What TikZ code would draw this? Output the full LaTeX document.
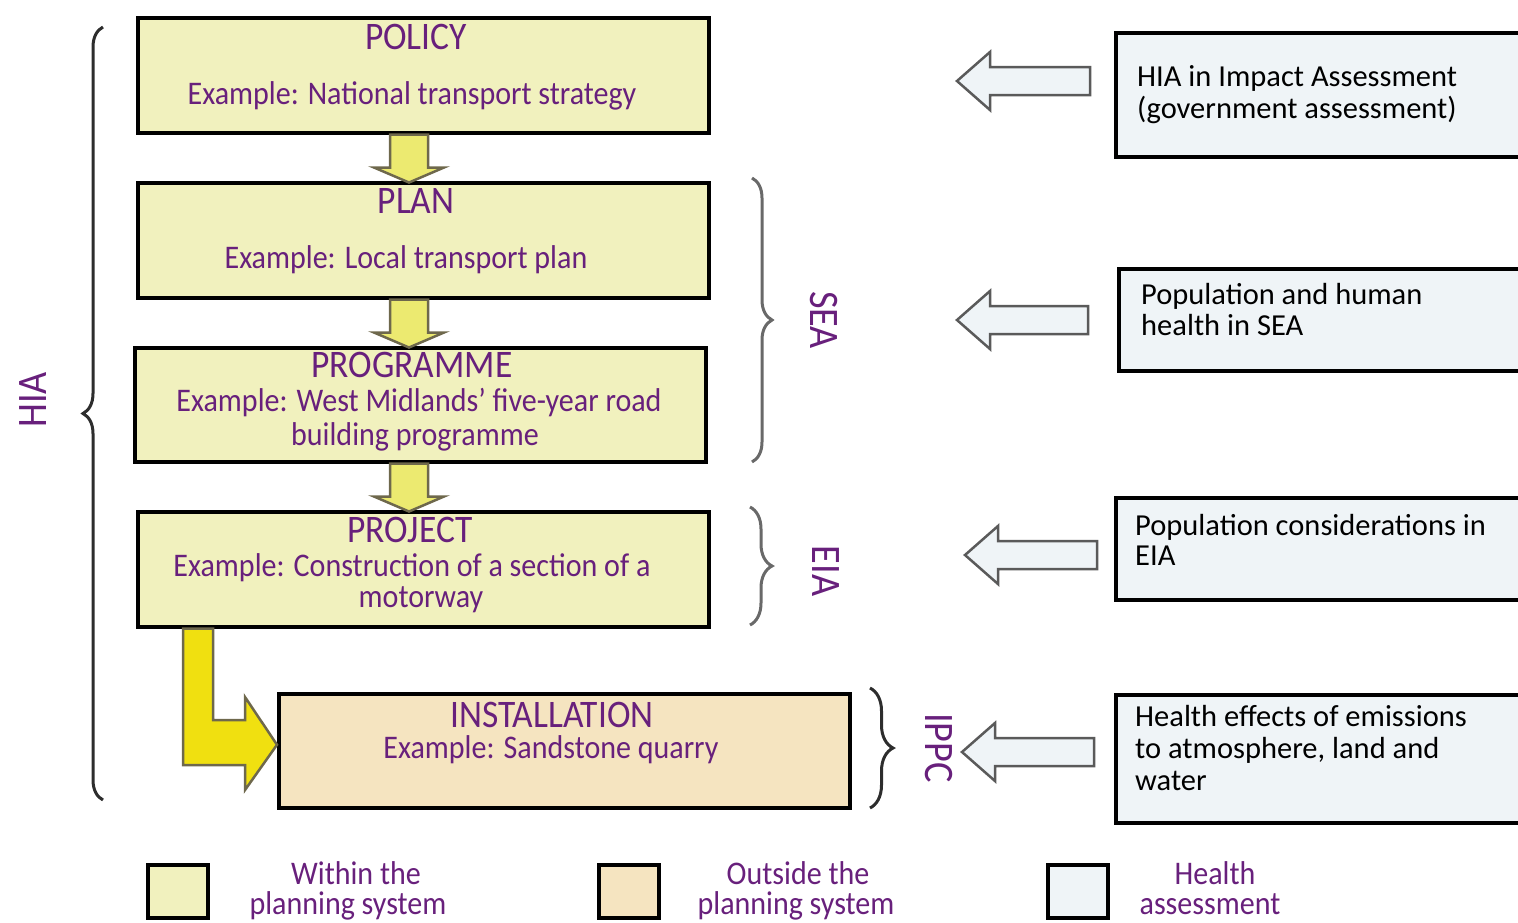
\documentclass[tikz,border=0pt]{standalone}
\usepackage{fontspec}
\setmainfont{Carlito}[FakeStretch=0.91]
\newfontfamily\plainsans{Carlito}
\usetikzlibrary{decorations.pathreplacing}
\definecolor{yfill}{RGB}{241,241,190}
\definecolor{ofill}{RGB}{245,228,192}
\definecolor{hfill}{RGB}{239,244,247}
\definecolor{purp}{RGB}{104,32,124}
\definecolor{yarr}{RGB}{236,234,112}
\definecolor{barr}{RGB}{240,224,16}
\definecolor{aline}{RGB}{110,104,76}
\definecolor{hline}{RGB}{90,90,90}
\definecolor{bdark}{RGB}{45,45,45}
\definecolor{bgrey}{RGB}{105,105,105}
\newcommand\hollowarrow[2]{\path[harrow] (#1) -- ++(33,-29) -- ++(0,15) -- ++(#2,0) -- ++(0,28) -- ++(-#2,0) -- ++(0,15) -- cycle;}
\begin{document}
\begin{tikzpicture}[x=1pt,y=-1pt,
  ybox/.style={draw=black,line width=3.5pt,fill=yfill,minimum width=571pt,minimum height=115pt,inner sep=0pt,anchor=north west},
  obox/.style={ybox,fill=ofill,minimum height=114pt},
  hbox/.style={draw=black,line width=3.5pt,fill=hfill,minimum width=430pt,inner sep=0pt,anchor=north west},
  lbox/.style={draw=black,line width=4pt,minimum width=60pt,minimum height=53pt,inner sep=0pt,anchor=north west},
  ttl/.style={font=\fontsize{39}{42}\selectfont,text=purp,inner sep=0pt,anchor=base},
  txt/.style={font=\fontsize{33}{36}\selectfont,text=purp,inner sep=0pt,anchor=base},
  htxt/.style={font=\plainsans\fontsize{30.5}{33}\selectfont,text=black,inner sep=0pt,anchor=base west},
  side/.style={font=\fontsize{42}{44}\selectfont,text=purp,inner sep=0pt},
  yarrow/.style={fill=yarr,draw=aline,line width=2.5pt,line join=miter},
  barrow/.style={fill=barr,draw=aline,line width=2.5pt,line join=miter},
  harrow/.style={fill=hfill,draw=hline,line width=2.5pt,line join=miter},
  mybrace/.style={decorate,decoration={brace,amplitude=#1},line width=3pt}
]
\useasboundingbox (0,0) rectangle (1518,922);

\coordinate (ax) at (409,0);
\coordinate (bl) at (183,0);
\coordinate (br) at (213,0);

% boxes
\node[ybox] (policy) at (136,16) {};
\node[ybox] (plan) at (136,181) {};
\node[ybox,minimum height=114pt] (programme) at (133,346) {};
\node[ybox] (project) at (136,510) {};
\node[obox] (install) at (277,692) {};

% yellow arrows
\path[yarrow] (ax |- policy.south) ++(-19,0) -- ++(0,33) -- ++(-16,0) -- ++(35,15) -- ++(35,-15) -- ++(-16,0) -- ++(0,-33) -- cycle;
\path[yarrow] (ax |- plan.south) ++(-19,0) -- ++(0,33) -- ++(-16,0) -- ++(35,15) -- ++(35,-15) -- ++(-16,0) -- ++(0,-33) -- cycle;
\path[yarrow] (ax |- programme.south) ++(-19,0) -- ++(0,33) -- ++(-16,0) -- ++(35,15) -- ++(35,-15) -- ++(-16,0) -- ++(0,-33) -- cycle;
\path[barrow] (bl |- project.south) -- (183,765) -- (245,765) -- (245,790) -- ([yshift=6pt]install.west) -- (245,697) -- (245,720) -- (213,720) -- (br |- project.south) -- cycle;

% box texts
\node[ttl] (t1) at (416,49) {POLICY};
\node[txt] (t1e) at (412,104) {Example: National transport strategy};
\node[ttl] (t2) at (416,213) {PLAN};
\node[txt] (t2e) at (406,268) {Example: Local transport plan};
\node[ttl] (t3) at (412,377) {PROGRAMME};
\node[txt] (t3e) at (419,411) {Example: West Midlands' five-year road};
\node[txt] (t3f) at (415,445) {building programme};
\node[ttl] (t4) at (410,542) {PROJECT};
\node[txt] (t4e) at (412,576) {Example: Construction of a section of a};
\node[txt] (t4f) at (421,607) {motorway};
\node[ttl] (t5) at (552,727) {INSTALLATION};
\node[txt] (t5e) at (551,758) {Example: Sandstone quarry};

% braces
\draw[mybrace=20pt,draw=bdark] (103,800) -- (103,27);
\draw[mybrace=20pt,draw=bgrey] (752,178) -- (752,462);
\draw[mybrace=22pt,draw=bgrey] (750,507) -- (750,625);
\draw[mybrace=23pt,draw=bdark] (870,688) -- (870,808);

% side labels
\node[side,rotate=90] (hia) at (33,400) {HIA};
\node[side,rotate=-90] (sea) at (824,320) {SEA};
\node[side,rotate=-90] (eia) at (826,571) {EIA};
\node[side,rotate=-90] (ippc) at (939,748) {IPPC};

% health assessment boxes
\node[hbox,minimum height=124pt] (ra) at (1114,31) {};
\node[hbox,minimum height=102pt] (rb) at (1117,267) {};
\node[hbox,minimum height=102pt] (rc) at (1114,496) {};
\node[hbox,minimum height=128pt] (rd) at (1114,693) {};
\node[htxt] (ra1) at (1137,86) {HIA in Impact Assessment};
\node[htxt] (ra2) at (1137,118) {(government assessment)};
\node[htxt] (rb1) at (1141,304) {Population and human};
\node[htxt] (rb2) at (1141,335) {health in SEA};
\node[htxt] (rc1) at (1135,535) {Population considerations in};
\node[htxt] (rc2) at (1135,565) {EIA};
\node[htxt] (rd1) at (1135,726) {Health effects of emissions};
\node[htxt] (rd2) at (1135,758) {to atmosphere, land and};
\node[htxt] (rd3) at (1135,790) {water};

% hollow arrows
\coordinate (ha1) at (957,81);
\coordinate (ha2) at (957,320);
\coordinate (ha3) at (965,555);
\coordinate (ha4) at (962,752);
\hollowarrow{ha1}{100}
\hollowarrow{ha2}{98}
\hollowarrow{ha3}{99}
\hollowarrow{ha4}{99}

% legend
\node[lbox,fill=yfill] (l1) at (146,863) {};
\node[lbox,fill=ofill] (l2) at (597,863) {};
\node[lbox,fill=hfill] (l3) at (1046,863) {};
\node[txt] (l1a) at (356,884) {Within the};
\node[txt] (l1b) at (348,914) {planning system};
\node[txt] (l2a) at (798,884) {Outside the};
\node[txt] (l2b) at (796,914) {planning system};
\node[txt] (l3a) at (1215,884) {Health};
\node[txt] (l3b) at (1210,914) {assessment};
\end{tikzpicture}
\end{document}
